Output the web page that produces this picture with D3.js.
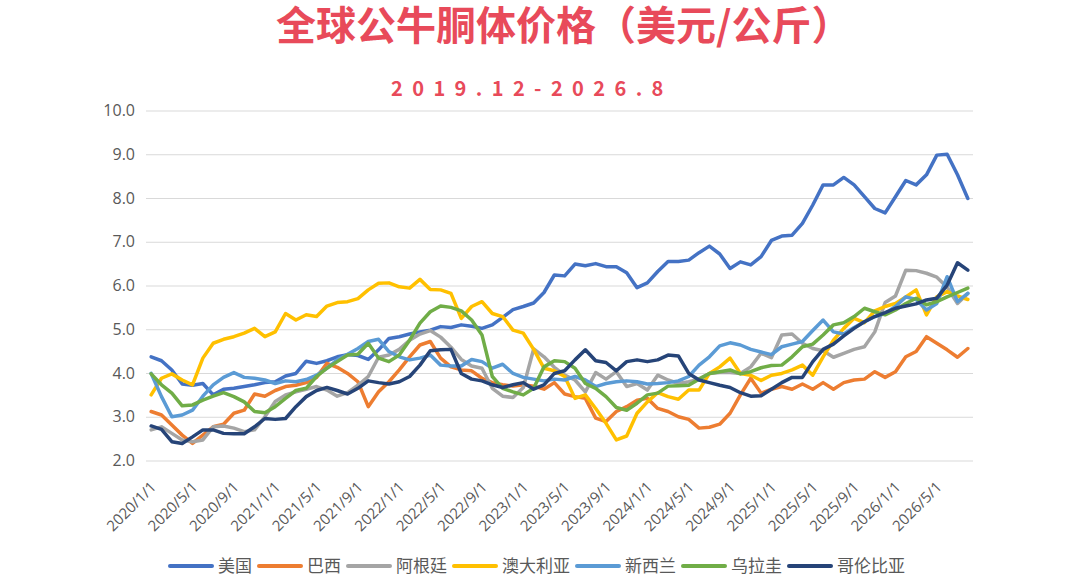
<!DOCTYPE html>
<html>
<head>
<meta charset="utf-8">
<script src="https://cdn.jsdelivr.net/npm/d3@7/dist/d3.min.js"></script>
<style>
  body { margin: 0; background: #fff; }
  svg { display: block; }
</style>
</head>
<body>
<div id="chart"></div>
<script>

// months 2020/1 .. 2026/8
const months = d3.timeMonth.range(new Date(2020, 0, 1), new Date(2026, 8, 1))
	.map(d3.timeFormat('%Y/%-m/%-d'));
const xTickLabels = months.filter((d, i) => i % 4 === 0);
const yTicks = [2, 3, 4, 5, 6, 7, 8, 9, 10];

const seriesNames = ['美国', '巴西', '阿根廷', '澳大利亚', '新西兰', '乌拉圭', '哥伦比亚'];
const seriesColors = ['#4472C4', '#ED7D31', '#A5A5A5', '#FFC000', '#5B9BD5', '#70AD47', '#264478'];

const usa = [4.37,4.28,4.07,3.75,3.72,3.76,3.5,3.63,3.65,3.69,
	3.73,3.78,3.8,3.93,3.99,4.27,4.22,4.28,4.37,4.42,
	4.4,4.31,4.53,4.79,4.83,4.89,4.94,4.98,5.06,5.04,
	5.1,5.07,5.02,5.1,5.27,5.45,5.52,5.6,5.84,6.24,
	6.22,6.49,6.45,6.5,6.43,6.43,6.29,5.95,6.06,6.32,
	6.55,6.55,6.58,6.75,6.9,6.72,6.39,6.54,6.47,6.66,
	7.03,7.13,7.15,7.42,7.84,8.3,8.3,8.47,8.3,8.03,
	7.76,7.66,8.03,8.4,8.3,8.53,8.98,9.0,8.53,7.99];
const brazil = [3.12,3.04,2.81,2.58,2.39,2.58,2.77,2.83,3.08,3.15,
	3.52,3.47,3.6,3.69,3.72,3.78,3.9,4.22,4.13,3.99,
	3.8,3.23,3.57,3.8,4.07,4.37,4.64,4.72,4.34,4.14,
	4.07,4.05,3.88,3.78,3.73,3.7,3.73,3.7,3.63,3.78,
	3.52,3.46,3.42,2.97,2.89,3.12,3.23,3.38,3.42,3.19,
	3.12,3.0,2.94,2.74,2.76,2.83,3.08,3.5,3.88,3.54,
	3.63,3.69,3.63,3.75,3.63,3.78,3.63,3.78,3.84,3.86,
	4.03,3.9,4.03,4.37,4.49,4.83,4.68,4.53,4.36,4.56];
const argentina = [2.7,2.77,2.62,2.47,2.43,2.47,2.77,2.79,2.74,2.66,
	2.7,3.0,3.35,3.5,3.57,3.63,3.69,3.61,3.47,3.55,
	3.72,3.92,4.36,4.41,4.54,4.75,4.89,4.97,4.82,4.59,
	4.31,4.16,4.11,3.65,3.47,3.44,3.67,4.55,4.37,4.13,
	3.95,3.84,3.57,4.01,3.86,4.03,3.69,3.76,3.61,3.95,
	3.84,3.76,3.8,3.86,3.99,4.01,4.01,3.99,4.14,4.45,
	4.35,4.87,4.89,4.68,4.56,4.51,4.36,4.45,4.54,4.6,
	4.94,5.61,5.76,6.35,6.34,6.28,6.19,5.96,5.59,5.82];
const australia = [3.5,3.88,3.98,3.84,3.73,4.34,4.68,4.77,4.83,4.91,
	5.02,4.83,4.94,5.36,5.21,5.33,5.29,5.53,5.61,5.63,
	5.7,5.9,6.05,6.06,5.97,5.94,6.14,5.91,5.9,5.82,
	5.25,5.52,5.63,5.36,5.29,4.98,4.91,4.54,4.11,4.05,
	3.92,3.42,3.5,3.19,2.85,2.47,2.56,3.08,3.34,3.55,
	3.46,3.4,3.61,3.61,3.99,4.14,4.34,3.99,3.95,3.83,
	3.95,3.99,4.07,4.18,3.95,4.37,4.75,5.02,5.25,5.15,
	5.42,5.52,5.59,5.74,5.9,5.33,5.74,5.86,5.76,5.68];
const newZealand = [3.99,3.46,3.0,3.04,3.15,3.47,3.73,3.9,4.01,3.9,
	3.88,3.84,3.76,3.82,3.8,3.85,3.95,4.11,4.3,4.43,
	4.56,4.72,4.77,4.49,4.37,4.3,4.34,4.41,4.18,4.16,
	4.16,4.31,4.26,4.11,4.2,3.99,3.9,3.86,3.82,3.86,
	3.84,3.92,3.84,3.69,3.76,3.8,3.82,3.8,3.75,3.76,
	3.78,3.82,3.92,4.18,4.37,4.62,4.69,4.64,4.54,4.48,
	4.42,4.6,4.66,4.72,4.97,5.21,4.94,4.89,5.04,5.17,
	5.29,5.36,5.52,5.74,5.68,5.44,5.59,6.2,5.63,5.82];
const uruguay = [3.98,3.73,3.54,3.25,3.27,3.38,3.47,3.55,3.46,3.34,
	3.12,3.09,3.23,3.42,3.6,3.65,3.92,4.11,4.26,4.41,
	4.43,4.68,4.34,4.26,4.41,4.75,5.14,5.4,5.53,5.5,
	5.42,5.21,4.87,3.92,3.65,3.57,3.5,3.65,4.14,4.28,
	4.26,4.11,3.76,3.65,3.46,3.21,3.15,3.31,3.5,3.54,
	3.7,3.71,3.72,3.86,3.99,4.03,4.07,3.98,4.03,4.12,
	4.17,4.18,4.37,4.6,4.66,4.87,5.1,5.15,5.29,5.48,
	5.4,5.33,5.44,5.59,5.71,5.56,5.63,5.74,5.84,5.94];
const colombia = [2.79,2.71,2.43,2.39,2.54,2.7,2.7,2.62,2.61,2.61,
	2.77,2.96,2.94,2.96,3.23,3.46,3.6,3.67,3.6,3.52,
	3.65,3.82,3.78,3.75,3.8,3.92,4.18,4.51,4.53,4.54,
	3.99,3.86,3.82,3.73,3.67,3.73,3.78,3.63,3.73,3.99,
	4.05,4.3,4.53,4.28,4.24,4.05,4.26,4.3,4.26,4.3,
	4.41,4.39,3.99,3.84,3.78,3.72,3.67,3.55,3.47,3.48,
	3.63,3.78,3.9,3.9,4.26,4.54,4.66,4.85,5.02,5.17,
	5.29,5.38,5.48,5.53,5.58,5.67,5.71,6.01,6.52,6.35];

const seriesValues = [usa, brazil, argentina, australia, newZealand, uruguay, colombia];
const series = seriesNames.map((name, k) => ({
	name: name,
	color: seriesColors[k],
	values: seriesValues[k].map((v, i) => ({ month: months[i], value: v }))
}));

////////////////////////////////////////////////////////////////////

const w_svg = 1080, h_svg = 582;
const plotL = 146, plotR = 973, plotT = 110.5, plotB = 460.5;
const red = '#E84A5A';
const grey = '#595959';

const svg = d3.select('#chart').append('svg')
	.attr('width', w_svg)
	.attr('height', h_svg);

svg.append('text')
	.attr('x', 276)
	.attr('y', 40)
	.style('font-family', '"Noto Sans CJK SC", sans-serif')
	.style('font-size', '40px')
	.style('font-weight', 'bold')
	.attr('fill', red)
	.text('全球公牛胴体价格（美元/公斤）');

svg.append('text')
	.attr('x', 391)
	.attr('y', 96)
	.style('font-family', '"Noto Sans CJK SC", sans-serif')
	.style('font-size', '20px')
	.style('font-weight', 'bold')
	.style('letter-spacing', '9.4px')
	.attr('fill', red)
	.text('2019.12-2026.8');

const scaleX = d3.scaleBand().domain(months).range([plotL, plotR]).padding(0);
const scaleY = d3.scaleLinear().domain([2, 10]).range([plotB, plotT]);

////////////////////////////////////////////////////////////////////

const axisY = d3.axisLeft()
	.scale(scaleY)
	.tickValues(yTicks)
	.tickSize(-(plotR - plotL))
	.tickPadding(11)
	.tickFormat(d3.format('.1f'));
const axisYNode = svg.append('g')
	.attr('class', 'axis axis-y')
	.attr('transform', `translate(${plotL},0)`)
	.call(axisY);
axisYNode.select('.domain').remove();
axisYNode.selectAll('line').attr('stroke', '#D9D9D9').attr('stroke-width', 1);
axisYNode.selectAll('text')
	.attr('fill', grey)
	.style('font-family', '"Open Sans", sans-serif')
	.style('font-size', '16px');

const axisX = d3.axisBottom()
	.scale(scaleX)
	.tickValues(xTickLabels)
	.tickSize(0);
const axisXNode = svg.append('g')
	.attr('class', 'axis axis-x')
	.attr('transform', `translate(0,${plotB})`)
	.call(axisX);
axisXNode.select('.domain').remove();
axisXNode.selectAll('text')
	.attr('x', 0)
	.attr('y', 0)
	.attr('dy', 0)
	.attr('transform', 'translate(6,27.5) rotate(-45)')
	.style('text-anchor', 'end')
	.attr('fill', grey)
	.style('font-family', '"Open Sans", sans-serif')
	.style('font-size', '15px');

////////////////////////////////////////////////////////////////////

const line = d3.line()
	.x(d => scaleX(d.month) + scaleX.bandwidth() / 2)
	.y(d => scaleY(d.value));

svg.append('g').attr('class', 'plot')
	.selectAll('.series')
	.data(series)
	.enter()
	.append('path')
	.attr('class', 'series')
	.attr('d', d => line(d.values))
	.attr('fill', 'none')
	.attr('stroke', d => d.color)
	.attr('stroke-width', 3.5)
	.attr('stroke-linejoin', 'round')
	.attr('stroke-linecap', 'round');

////////////////////////////////////////////////////////////////////

const legend = svg.append('g').attr('class', 'legend');
let lx = 170;
const ly = 566;
series.forEach(s => {
	legend.append('line')
		.attr('x1', lx).attr('x2', lx + 42)
		.attr('y1', ly).attr('y2', ly)
		.attr('stroke', s.color)
		.attr('stroke-width', 4)
		.attr('stroke-linecap', 'round');
	const t = legend.append('text')
		.attr('x', lx + 48)
		.attr('y', ly + 6)
		.attr('fill', grey)
		.style('font-family', '"Noto Sans CJK SC", sans-serif')
		.style('font-size', '17px')
		.text(s.name);
	lx += 48 + t.node().getComputedTextLength() + 7;
});

</script>
</body>
</html>
